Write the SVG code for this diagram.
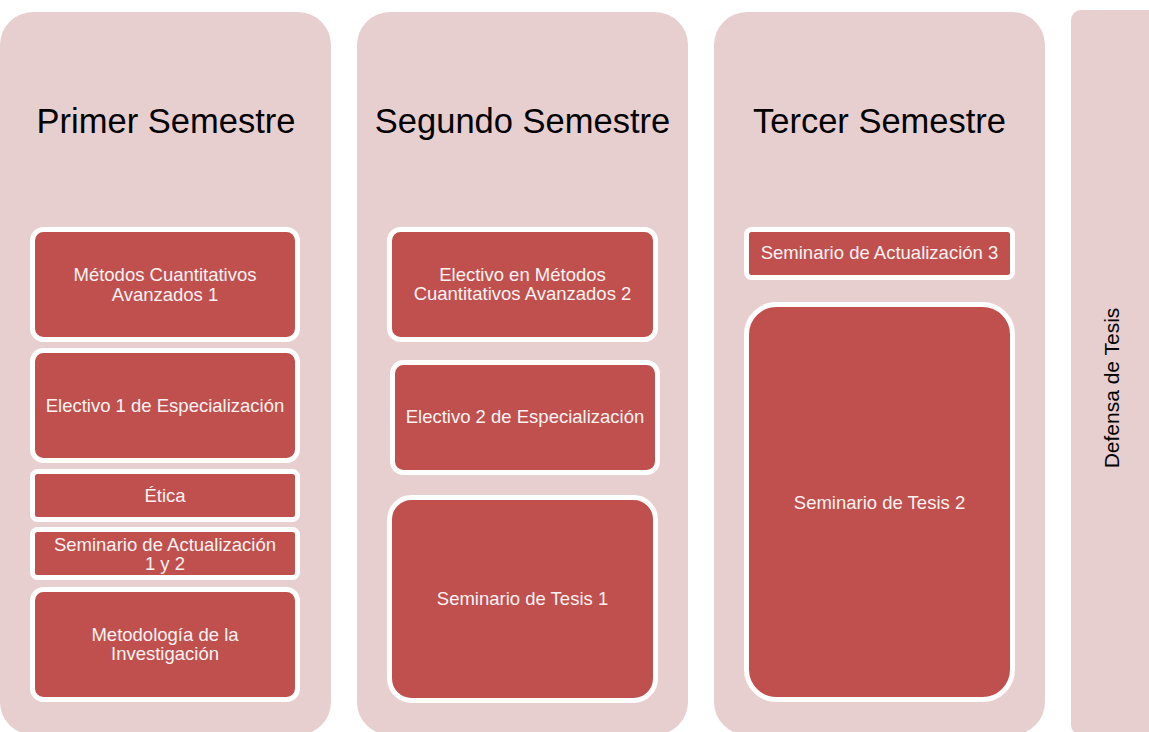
<svg xmlns="http://www.w3.org/2000/svg" width="1149" height="732" viewBox="0 0 1149 732">
<style>
.col{fill:#E7CFD0;}
.box{fill:#C0504D;stroke:#FFFFFF;stroke-width:5;}
.title{font-family:"Liberation Sans",Arial,sans-serif;font-size:34.5px;fill:#000000;text-anchor:middle;}
.lbl{font-family:"Liberation Sans",Arial,sans-serif;font-size:18.5px;fill:#FBF3F3;text-anchor:middle;}
.vlbl{font-family:"Liberation Sans",Arial,sans-serif;font-size:21px;fill:#000000;text-anchor:middle;}
</style>
<rect width="1149" height="732" fill="#FFFFFF"/>
<g id="col1">
<rect class="col" x="0" y="12" width="331" height="723" rx="33"/>
<text class="title" x="166" y="132.5">Primer Semestre</text>
</g>
<g id="col2">
<rect class="col" x="357" y="12" width="331" height="723" rx="33"/>
<text class="title" x="522.5" y="132.5">Segundo Semestre</text>
</g>
<g id="col3">
<rect class="col" x="714" y="12" width="331" height="723" rx="33"/>
<text class="title" x="879.5" y="132.5">Tercer Semestre</text>
</g>
<g id="col4">
<rect class="col" x="1071" y="10" width="100" height="725" rx="10"/>
<text class="vlbl" transform="translate(1119,388) rotate(-90)" x="0" y="0">Defensa de Tesis</text>
</g>
<g id="n-metodos1">
<rect class="box" x="32.5" y="229.5" width="265" height="110" rx="11"/>
<text class="lbl" x="165" y="281">Métodos Cuantitativos</text>
<text class="lbl" x="165" y="300.5">Avanzados 1</text>
</g>
<g id="n-electivo1">
<rect class="box" x="32.5" y="350.5" width="265" height="110" rx="11"/>
<text class="lbl" x="165" y="412">Electivo 1 de Especialización</text>
</g>
<g id="n-etica">
<rect class="box" x="32.5" y="471.5" width="265" height="48" rx="5"/>
<text class="lbl" x="165" y="502">Ética</text>
</g>
<g id="n-seminario12">
<rect class="box" x="32.5" y="529.5" width="265" height="48" rx="5"/>
<text class="lbl" x="165" y="550.5">Seminario de Actualización</text>
<text class="lbl" x="165" y="570">1 y 2</text>
</g>
<g id="n-metodologia">
<rect class="box" x="32.5" y="589.5" width="265" height="110" rx="11"/>
<text class="lbl" x="165" y="640.5">Metodología de la</text>
<text class="lbl" x="165" y="660">Investigación</text>
</g>
<g id="n-electivo-metodos2">
<rect class="box" x="389.5" y="229.5" width="266" height="110" rx="11"/>
<text class="lbl" x="522.5" y="280.5">Electivo en Métodos</text>
<text class="lbl" x="522.5" y="300">Cuantitativos Avanzados 2</text>
</g>
<g id="n-electivo2">
<rect class="box" x="392.5" y="362.5" width="265" height="110" rx="11"/>
<text class="lbl" x="525" y="423">Electivo 2 de Especialización</text>
</g>
<g id="n-tesis1">
<rect class="box" x="389.5" y="497.5" width="266" height="203" rx="22"/>
<text class="lbl" x="522.5" y="605">Seminario de Tesis 1</text>
</g>
<g id="n-seminario3">
<rect class="box" x="746.5" y="229.5" width="266" height="48" rx="5"/>
<text class="lbl" x="879.5" y="258.5">Seminario de Actualización 3</text>
</g>
<g id="n-tesis2">
<rect class="box" x="746.5" y="304.5" width="266" height="395" rx="30"/>
<text class="lbl" x="879.5" y="508.5">Seminario de Tesis 2</text>
</g>
<g id="connectors"></g>
</svg>
